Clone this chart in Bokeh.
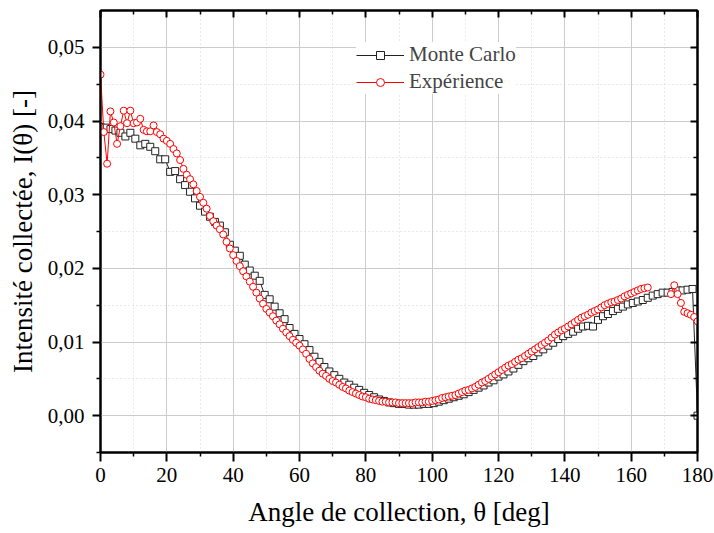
import numpy as np
from bokeh.plotting import figure
from bokeh.models import (LinearAxis, FixedTicker, CustomJSTickFormatter, Range1d,
                          Legend, LegendItem, ColumnDataSource)
from bokeh.embed import file_html
from bokeh.resources import INLINE

# ---------------- data ----------------
x_ticks = [0, 20, 40, 60, 80, 100, 120, 140, 160, 180]
x_minor = [10, 30, 50, 70, 90, 110, 130, 150, 170]
y_ticks = [0.0, 0.01, 0.02, 0.03, 0.04, 0.05]
y_minor = [-0.005, 0.005, 0.015, 0.025, 0.035, 0.045]

series_names = ["Monte Carlo", "Expérience"]

mc_angle = [i * 1.5 for i in range(121)]
mc_intensity = [
    0.0392, 0.0391, 0.0389, 0.0387, 0.0384, 0.0379, 0.0384, 0.0376, 0.0367, 0.0369,
    0.0365, 0.0359, 0.0348, 0.0348, 0.0331, 0.0332, 0.0321, 0.0313, 0.0304, 0.0295,
    0.0285, 0.0277, 0.0270, 0.0263, 0.0258, 0.0249, 0.0232, 0.0224, 0.0217, 0.0205,
    0.0197, 0.0190, 0.0183, 0.0164, 0.0158, 0.0148, 0.0139, 0.0131, 0.0119, 0.0111,
    0.0104, 0.0097, 0.0089, 0.0080, 0.0073, 0.0066, 0.0060, 0.0055, 0.0050, 0.0045,
    0.0042, 0.0038, 0.0035, 0.0031, 0.0028, 0.0025, 0.0022, 0.0020, 0.0018, 0.0017,
    0.0016, 0.0016, 0.0015, 0.0015, 0.0015, 0.0016, 0.0016, 0.0017, 0.0019, 0.0021,
    0.0023, 0.0025, 0.0027, 0.0029, 0.0032, 0.0035, 0.0038, 0.0041, 0.0045, 0.0048,
    0.0053, 0.0056, 0.0060, 0.0064, 0.0069, 0.0074, 0.0078, 0.0081, 0.0086, 0.0090,
    0.0095, 0.0099, 0.0104, 0.0108, 0.0111, 0.0114, 0.0118, 0.0121, 0.0122, 0.0121,
    0.0130, 0.0135, 0.0138, 0.0142, 0.0145, 0.0148, 0.0151, 0.0153, 0.0155, 0.0157,
    0.0160, 0.0163, 0.0165, 0.0167, 0.0167, 0.0168, 0.0170, 0.0170, 0.0171, 0.0172,
    0.0,
]

nan = float("nan")
exp_angle = list(range(0, 181))
exp_intensity = [
    0.0463, 0.0385, 0.0342, 0.0413, 0.0398, 0.0369, 0.0393, 0.0414, 0.0397, 0.0414,
    0.0397, 0.0398, 0.0403, 0.0388, 0.0386, 0.0386, 0.0394, 0.0385, 0.0382, 0.0376,
    0.0373, 0.0369, 0.0362, 0.0356, 0.0347, 0.0335, 0.0327, 0.0321, 0.0314, 0.0305,
    0.0297, 0.0289, 0.0281, 0.0271, 0.0264, 0.0258, 0.0253, 0.0246, 0.0236, 0.0227,
    0.0218, 0.0210, 0.0203, 0.0196, 0.0189, 0.0182, 0.0175, 0.0167, 0.0159, 0.0152,
    0.0145, 0.0140, 0.0135, 0.0129, 0.0124, 0.0118, 0.0113, 0.0108, 0.0103, 0.0099,
    0.0095, 0.0090, 0.0084, 0.0077, 0.0071, 0.0066, 0.0061, 0.0057, 0.0054, 0.0050,
    0.0047, 0.0045, 0.0042, 0.0039, 0.0037, 0.0034, 0.0032, 0.0030, 0.0028, 0.0026,
    0.0025, 0.0023, 0.0022, 0.0021, 0.0020, 0.0019, 0.0019, 0.0018, 0.0018, 0.0018,
    0.0017, 0.0017, 0.0017, 0.0017, 0.0017, 0.0018, 0.0018, 0.0018, 0.0019, 0.0019,
    0.0020, 0.0021, 0.0022, 0.0024, 0.0025, 0.0026, 0.0027, 0.0028, 0.0030, 0.0032,
    0.0034, 0.0035, 0.0037, 0.0039, 0.0042, 0.0045, 0.0047, 0.0050, 0.0053, 0.0056,
    0.0059, 0.0062, 0.0065, 0.0068, 0.0070, 0.0073, 0.0076, 0.0078, 0.0081, 0.0084,
    0.0087, 0.0090, 0.0093, 0.0096, 0.0099, 0.0102, 0.0106, 0.0110, 0.0113, 0.0116,
    0.0118, 0.0121, 0.0124, 0.0127, 0.0130, 0.0133, 0.0135, 0.0137, 0.0140, 0.0142,
    0.0144, 0.0147, 0.0150, 0.0152, 0.0154, 0.0155, 0.0157, 0.0159, 0.0162, 0.0164,
    0.0166, 0.0168, 0.0170, 0.0172, 0.0173, 0.0174, nan, nan, nan, nan,
    nan, nan, 0.0165, 0.0177, 0.0165, 0.0153, 0.0141, 0.0139, 0.0137, 0.0134,
    0.0128,
]

x_title = "Angle de collection, θ [deg]"
y_title = "Intensité collectée, I(θ) [-]"

# ---------------- figure ----------------
FONT = "Liberation Serif"

p = figure(width=713, height=532, output_backend="svg", toolbar_location=None,
           x_range=Range1d(0, 180), y_range=Range1d(-0.005, 0.055),
           min_border_left=100, min_border_right=16, min_border_top=10,
           min_border_bottom=80)
p.outline_line_color = "black"
p.outline_line_width = 2
p.background_fill_color = "white"

xt = FixedTicker(ticks=x_ticks, minor_ticks=x_minor)
yt = FixedTicker(ticks=y_ticks, minor_ticks=y_minor)
yfmt = CustomJSTickFormatter(code="return tick.toFixed(2).replace('.', ',');")

def style_axis(ax, inside):
    ax.axis_line_width = 2
    ax.axis_line_color = "black"
    ax.major_tick_line_width = 2
    ax.minor_tick_line_width = 1.5
    ax.major_tick_line_color = "black"
    ax.minor_tick_line_color = "black"
    ax.major_label_text_font = FONT
    ax.major_label_text_font_size = "21px"
    ax.major_label_text_color = "black"
    ax.axis_label_text_font = FONT
    ax.axis_label_text_font_size = "27px"
    ax.axis_label_text_font_style = "normal"
    ax.axis_label_text_color = "black"
    if inside:
        ax.major_tick_in = 7
        ax.major_tick_out = 0
        ax.minor_tick_in = 4
        ax.minor_tick_out = 0
        ax.formatter = CustomJSTickFormatter(code="return '';")
        ax.major_label_text_font_size = "1px"
        ax.major_label_standoff = 0
    else:
        ax.major_tick_in = 0
        ax.major_tick_out = 9
        ax.minor_tick_in = 0
        ax.minor_tick_out = 4

xa = p.xaxis[0]
xa.ticker = xt
xa.axis_label = x_title
style_axis(xa, False)
xa.major_label_standoff = 6
xa.axis_label_standoff = 12

ya = p.yaxis[0]
ya.ticker = yt
ya.formatter = yfmt
ya.axis_label = y_title
style_axis(ya, False)
ya.major_tick_out = 8
ya.major_label_standoff = 8
ya.axis_label_standoff = 7

top = LinearAxis(ticker=xt)
style_axis(top, True)
p.add_layout(top, "above")
right = LinearAxis(ticker=yt)
style_axis(right, True)
p.add_layout(right, "right")

for g, t in ((p.xgrid[0], xt), (p.ygrid[0], yt)):
    g.ticker = t
    g.grid_line_color = "#cccccc"
    g.grid_line_width = 1
    g.minor_grid_line_color = "#d4d4d4"
    g.minor_grid_line_width = 1
    g.minor_grid_line_dash = "1 3"

mc_src = ColumnDataSource(dict(x=mc_angle, y=mc_intensity))
ex_src = ColumnDataSource(dict(x=exp_angle, y=exp_intensity))

mc_line = p.line("x", "y", source=mc_src, line_color="#222222", line_width=1)
mc_sc = p.scatter("x", "y", source=mc_src, marker="square", size=7,
                  line_color="#222222", fill_color="white", line_width=1)
ex_line = p.line("x", "y", source=ex_src, line_color="#ff0000", line_width=1)
ex_sc = p.scatter("x", "y", source=ex_src, marker="circle", size=7,
                  line_color="#ff0000", fill_color="white", line_width=1)

legend = Legend(items=[LegendItem(label=series_names[0], renderers=[mc_line, mc_sc]),
                       LegendItem(label=series_names[1], renderers=[ex_line, ex_sc])],
                location=(256, 358), label_text_font=FONT, label_text_font_size="21px",
                border_line_color=None, background_fill_color="white",
                background_fill_alpha=1.0, glyph_width=48, glyph_height=20,
                label_standoff=5, spacing=2, padding=6, margin=0)
p.add_layout(legend)

open("out.html", "w").write(file_html(p, INLINE))
